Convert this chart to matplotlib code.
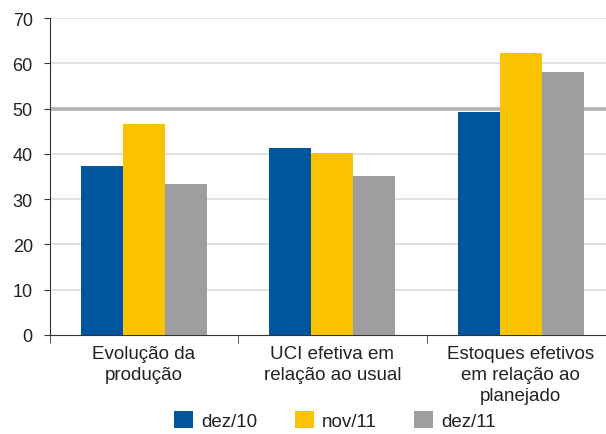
import numpy as np
import matplotlib
matplotlib.use("Agg")
from matplotlib import pyplot as plt

plt.rcParams['font.family'] = ['Liberation Sans', 'DejaVu Sans']

categories = ['Evolução da\nprodução', 'UCI efetiva em\nrelação ao usual',
              'Estoques efetivos\nem relação ao\nplanejado']
series = ['dez/10', 'nov/11', 'dez/11']
dez10 = [37.4, 41.2, 49.2]
nov11 = [46.5, 40.1, 62.2]
dez11 = [33.4, 35.2, 58.0]
colors = ['#00569e', '#fbc200', '#9d9ea0']

fig = plt.figure(figsize=(6.06, 4.35), dpi=100)
# axes start at x=49.5 px, 188.5 px per group; right side is cut by the figure edge
ax = fig.add_axes([49.5/606, 99/435, 1 - 49.5/606, 317/435])

x = np.arange(len(categories))
w = 0.223
for i, (vals, c, lab) in enumerate(zip([dez10, nov11, dez11], colors, series)):
    ax.bar(x + (i - 1) * w, vals, w, color=c, label=lab, zorder=3)

ax.set_xlim(-0.5, (606 - 49.5) / 188.5 - 0.5)
ax.set_ylim(0, 70)
ax.set_yticks(range(0, 71, 10))
for v in range(10, 71, 10):
    if v == 50:
        ax.axhline(v, color='#b3b3b3', lw=2.6, zorder=1)
    else:
        ax.axhline(v, color='#dcdcdc', lw=1.2, zorder=1)

ax.set_xticks(x)
ax.set_xticklabels(categories, fontsize=13.5, color='#222222', linespacing=1.3)
ax.tick_params(axis='x', length=0, pad=7)
ax.set_xticks([-0.5, 0.5, 1.5], minor=True)
ax.tick_params(axis='x', which='minor', length=6, direction='out', color='#333333')
ax.tick_params(axis='y', length=4, labelsize=13, labelcolor='#222222', color='#333333', pad=8)

for s in ['top', 'right']:
    ax.spines[s].set_visible(False)
ax.spines['left'].set_color('#333333')
ax.spines['bottom'].set_color('#333333')

fig.legend(loc='lower center', bbox_to_anchor=(0.553, -0.03), ncol=3, frameon=False,
           fontsize=13.5, handlelength=1.0, handleheight=1.0, columnspacing=2.0,
           handletextpad=0.45, labelcolor='#222222')

fig.savefig('out.png', dpi=100)
